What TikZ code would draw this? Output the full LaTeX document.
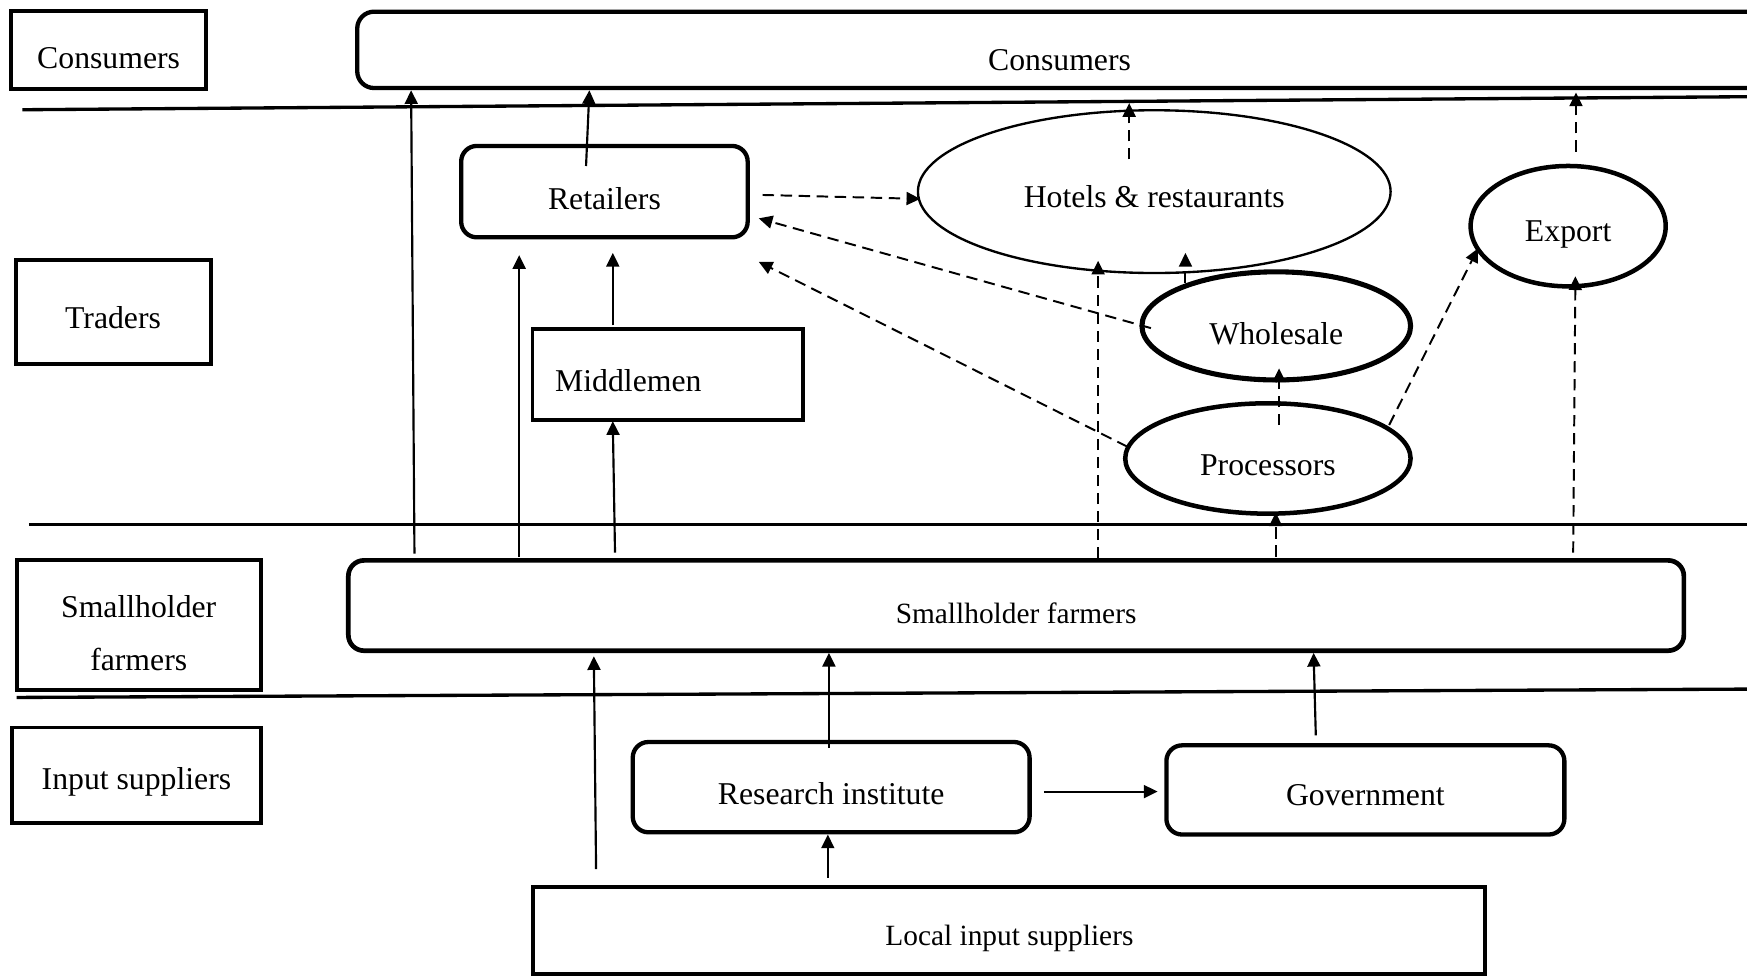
\documentclass[tikz,border=0pt]{standalone}
\usepackage{fontspec}
\setmainfont{Liberation Serif}
\usetikzlibrary{arrows.meta,shapes.geometric}
\begin{document}
\begin{tikzpicture}[x=0.01cm,y=-0.01cm,
  every node/.style={font=\fontsize{8.1}{9.7}\selectfont},
  smallfont/.style={font=\fontsize{7.5}{9}\selectfont},
  sqbox/.style={draw, line width=1pt, inner sep=0pt},
  rbox/.style={draw, line width=1.1pt, rounded corners=4pt, inner sep=0pt},
  oval/.style={draw, ellipse, line width=1.15pt, inner sep=0pt},
  sep/.style={line width=0.85pt},
  arr/.style={line width=0.55pt, -{Triangle[length=3.5pt,width=3.3pt]}},
  darr/.style={arr, line width=0.5pt, dash pattern=on 2.9pt off 1.7pt},
]
\useasboundingbox (0,0) rectangle (1568,876);
\clip (0,0) rectangle (1568,876);

% separators
\draw[sep] (20,98.5) -- (1568,86.8);
\draw[sep] (26,471) -- (1568,471);
\draw[sep] (15,626) -- (1568,618.5);

% left level labels
\node[sqbox, minimum width=1.75cm, minimum height=0.70cm, label={[yshift=-2pt]center:Consumers}] (lcons) at (97.5,45) {};
\node[sqbox, minimum width=1.75cm, minimum height=0.94cm, label={[yshift=-1.4pt]center:Traders}] (ltrad) at (101.5,280) {};
\node[sqbox, minimum width=2.19cm, minimum height=1.16cm, label={[yshift=-2.1pt, align=center, font=\fontsize{8.1}{13.4}\selectfont]center:Smallholder\\farmers}] (lsmall) at (124.5,561) {};
\node[sqbox, minimum width=2.23cm, minimum height=0.86cm, label={[yshift=-1.7pt]center:Input suppliers}] (linput) at (122.5,696) {};

% main nodes
\node[rbox, rounded corners=4.3pt, minimum width=12.79cm, minimum height=0.685cm, label={[xshift=-2.7pt,yshift=-2.7pt]center:Consumers}] (cons) at (960.5,44.75) {};
\node[rbox, minimum width=2.57cm, minimum height=0.82cm, label={[yshift=-1.7pt]center:Retailers}] (ret) at (542.5,172) {};
\node[sqbox, minimum width=2.43cm, minimum height=0.82cm, label={[xshift=-10.1pt,yshift=-1.7pt]center:Middlemen}] (mid) at (599.5,336) {};
\node[oval, line width=0.6pt, minimum width=4.24cm, minimum height=1.46cm, label={[yshift=-1.4pt]center:Hotels \& restaurants}] (hot) at (1036,172) {};
\node[oval, minimum width=1.75cm, minimum height=1.08cm, label={[yshift=-2.2pt]center:Export}] (exp) at (1407.5,203) {};
\node[oval, line width=1.3pt, minimum width=2.41cm, minimum height=0.97cm, label={[yshift=-2pt]center:Wholesale}] (whl) at (1145.5,292.5) {};
\node[oval, minimum width=2.56cm, minimum height=0.99cm, label={[yshift=-1.7pt]center:Processors}] (proc) at (1138,411.5) {};
\node[rbox, line width=1.2pt, minimum width=11.98cm, minimum height=0.81cm, label={[smallfont,yshift=-1.9pt]center:Smallholder farmers}] (sf) at (912,543.5) {};
\node[rbox, minimum width=3.56cm, minimum height=0.81cm, label={[yshift=-1.6pt]center:Research institute}] (res) at (746,706.5) {};
\node[rbox, minimum width=3.57cm, minimum height=0.80cm, label={[yshift=-1.4pt]center:Government}] (gov) at (1225.5,709) {};
\node[sqbox, minimum width=8.54cm, minimum height=0.78cm, label={[smallfont,yshift=-2pt]center:Local input suppliers}] (loc) at (906,835) {};

% connector end points
\coordinate (a1s) at (372,497);   \coordinate (a1e) at (369,81);
\coordinate (a2s) at (466,500);   \coordinate (a2e) at (466,229);
\coordinate (a3s) at (526,149);   \coordinate (a3e) at (529,81);
\coordinate (a4s) at (550,292);   \coordinate (a4e) at (550,227);
\coordinate (a5s) at (552,496);   \coordinate (a5e) at (550,378);
\coordinate (a6s) at (535,780);   \coordinate (a6e) at (533,589);
\coordinate (a7s) at (744,671);   \coordinate (a7e) at (744,586);
\coordinate (a8s) at (743,788);   \coordinate (a8e) at (743,749);
\coordinate (a9s) at (937,710.5); \coordinate (a9e) at (1039,710.5);
\coordinate (a10s) at (1181,660); \coordinate (a10e) at (1179,586);

\coordinate (das) at (684.5,175);  \coordinate (dae) at (826,178.5);
\coordinate (dbs) at (1033,294.5); \coordinate (dbe) at (681,196);
\coordinate (dcs) at (1012,401);   \coordinate (dce) at (681,235);
\coordinate (dds) at (1013.5,143); \coordinate (dde) at (1013.5,92.5);
\coordinate (des) at (985.6,501);  \coordinate (dee) at (985.6,234);
\coordinate (dfs) at (1064,254);   \coordinate (dfe) at (1064,227);
\coordinate (dgs) at (1148,381.5); \coordinate (dge) at (1148,330.6);
\coordinate (dhs) at (1145,499.6); \coordinate (dhe) at (1145,460);
\coordinate (dis) at (1246.8,381.5); \coordinate (die) at (1326.5,223);
\coordinate (djs) at (1412,496);   \coordinate (dje) at (1414,248);
\coordinate (dks) at (1414.5,136); \coordinate (dke) at (1414.5,83);

% solid connectors
\draw[arr] (a1s) -- (a1e);
\draw[arr] (a2s) -- (a2e);
\draw[arr] (a3s) -- (a3e);
\draw[arr] (a4s) -- (a4e);
\draw[arr] (a5s) -- (a5e);
\draw[arr] (a6s) -- (a6e);
\draw[arr] (a7s) -- (a7e);
\draw[arr] (a8s) -- (a8e);
\draw[arr] (a9s) -- (a9e);
\draw[arr] (a10s) -- (a10e);

% dashed connectors
\draw[darr] (das) -- (dae);
\draw[darr] (dbs) -- (dbe);
\draw[darr] (dcs) -- (dce);
\draw[darr] (dds) -- (dde);
\draw[darr] (des) -- (dee);
\draw[darr] (dfs) -- (dfe);
\draw[darr] (dgs) -- (dge);
\draw[darr] (dhs) -- (dhe);
\draw[darr] (dis) -- (die);
\draw[darr] (djs) -- (dje);
\draw[darr] (dks) -- (dke);
\end{tikzpicture}
\end{document}
